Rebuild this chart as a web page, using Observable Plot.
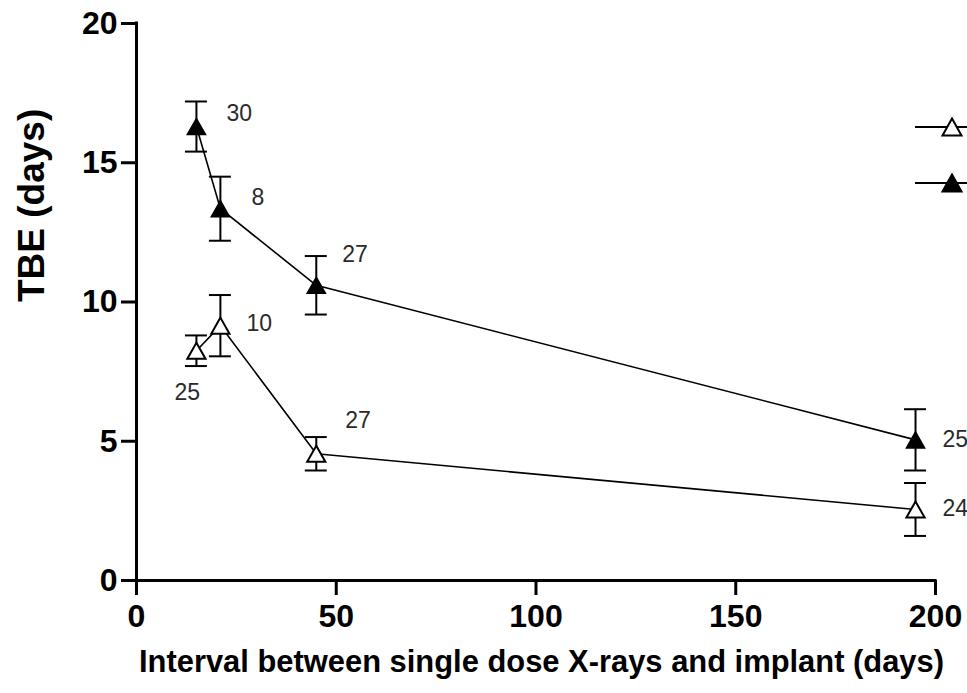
<!DOCTYPE html>
<html>
<head>
<meta charset="utf-8">
<script src="https://cdn.jsdelivr.net/npm/d3@7"></script>
<script src="https://cdn.jsdelivr.net/npm/@observablehq/plot@0.6"></script>
<style>
  html, body { margin: 0; padding: 0; background: #fff; overflow: hidden; }
  #wrap { position: relative; width: 967px; height: 693px; }
  #legend { position: absolute; left: 0; top: 0; pointer-events: none; }
</style>
</head>
<body>
<div id="wrap"></div>
<script>
// ---- data ----
const intervals = [15, 21, 45, 195];           // days between X-rays and implant
const openMean   = [8.25, 9.15, 4.55, 2.55];   // TBE (days), open triangles
const openSE     = [0.55, 1.1, 0.6, 0.95];
const openN      = [25, 10, 27, 24];
const filledMean = [16.3, 13.35, 10.6, 5.05];  // TBE (days), filled triangles
const filledSE   = [0.9, 1.15, 1.05, 1.1];
const filledN    = [30, 8, 27, 25];
const xTicks = [0, 50, 100, 150, 200];
const yTicks = [0, 5, 10, 15, 20];
const xLabel = "Interval between single dose X-rays and implant (days)";
const yLabel = "TBE (days)";

// label offsets in pixels (style only)
const openLabelOffsets   = [[-22, 42], [26, -2], [29, -33], [27, -1]];
const filledLabelOffsets = [[30, -13], [31, -11], [26, -31], [27, 0]];

// ---- build tables ----
const build = (means, ses, ns, offs, group) =>
  intervals.map((x, i) => ({x, y: means[i], lo: means[i] - ses[i], hi: means[i] + ses[i], n: ns[i], dx: offs[i][0], dy: offs[i][1], group}));
const openRows = build(openMean, openSE, openN, openLabelOffsets, "open");
const filledRows = build(filledMean, filledSE, filledN, filledLabelOffsets, "filled");
const allRows = openRows.concat(filledRows);

// triangle symbol centered on its bounding box
const tri = {
  draw(ctx, size) {
    const r = Math.sqrt(size / Math.PI);
    const hw = r * 1.3, hh = r * 1.15;
    ctx.moveTo(0, -hh);
    ctx.lineTo(hw, hh);
    ctx.lineTo(-hw, hh);
    ctx.closePath();
  }
};

const capHalf = 2.75; // half cap width in x units
const numFont = "'Liberation Sans', Arial, sans-serif";

const labelMarks = allRows.map(d =>
  Plot.text([d], {x: "x", y: "y", text: d => String(d.n), dx: d.dx, dy: d.dy,
    textAnchor: "start", fontSize: 23, fill: "#2a2a2a", fontFamily: numFont})
);

const chart = Plot.plot({
  width: 967,
  height: 693,
  marginLeft: 136,
  marginRight: 32,
  marginTop: 23,
  marginBottom: 113,
  style: {background: "#fff", fontFamily: numFont, color: "#000"},
  x: {domain: [0, 200]},
  y: {domain: [0, 20]},
  marks: [
    Plot.axisX({ticks: xTicks, tickSize: 15, tickPadding: 9, fontSize: 32, fontWeight: "bold", strokeWidth: 3, label: null, tickFormat: d => d}),
    Plot.axisY({ticks: yTicks, tickSize: 15, tickPadding: 4, fontSize: 32, fontWeight: "bold", strokeWidth: 3, label: null, tickFormat: d => d}),
    Plot.ruleY([0], {x1: 0, x2: 200, stroke: "#000", strokeWidth: 3, strokeLinecap: "square"}),
    Plot.ruleX([0], {y1: 0, y2: 20, stroke: "#000", strokeWidth: 3, strokeLinecap: "square"}),
    // connecting lines
    Plot.line(openRows, {x: "x", y: "y", stroke: "#000", strokeWidth: 1.6}),
    Plot.line(filledRows, {x: "x", y: "y", stroke: "#000", strokeWidth: 1.6}),
    // error bars
    Plot.ruleX(allRows, {x: "x", y1: "lo", y2: "hi", stroke: "#000", strokeWidth: 2}),
    Plot.ruleY(allRows, {y: "hi", x1: d => d.x - capHalf, x2: d => d.x + capHalf, stroke: "#000", strokeWidth: 2}),
    Plot.ruleY(allRows, {y: "lo", x1: d => d.x - capHalf, x2: d => d.x + capHalf, stroke: "#000", strokeWidth: 2}),
    // markers
    Plot.dot(openRows, {x: "x", y: "y", symbol: tri, r: 7, fill: "#fff", stroke: "#000", strokeWidth: 2}),
    Plot.dot(filledRows, {x: "x", y: "y", symbol: tri, r: 7, fill: "#000", stroke: "#000", strokeWidth: 1.5}),
    ...labelMarks,
    // axis titles
    Plot.text([xLabel], {frameAnchor: "bottom", dx: 5.5, dy: 91, fontSize: 31, fontWeight: "bold",
      fontFamily: "'Liberation Sans Narrow', 'Arial Narrow', 'Liberation Sans', Arial, sans-serif", fill: "#000"}),
    Plot.text([yLabel], {frameAnchor: "left", dx: -104, rotate: -90, fontSize: 37, fontWeight: "bold",
      fontFamily: numFont, fill: "#000"})
  ]
});

document.getElementById("wrap").appendChild(chart);

// fit the x-axis title to the reference width
d3.select(chart).selectAll("text").filter(function() { return this.textContent === xLabel; })
  .attr("textLength", 805).attr("lengthAdjust", "spacingAndGlyphs");

// legend (symbols only; the labels fall outside the visible frame)
const legendItems = [{fill: "#fff", y: 127}, {fill: "#000", y: 183}];
const lg = d3.select("#wrap").append("svg").attr("id", "legend").attr("width", 967).attr("height", 693);
legendItems.forEach(it => {
  lg.append("line").attr("x1", 915).attr("x2", 967).attr("y1", it.y).attr("y2", it.y)
    .attr("stroke", "#000").attr("stroke-width", 2);
  lg.append("path").attr("d", "M0,-8.5L9.5,8.5L-9.5,8.5Z").attr("transform", `translate(952,${it.y})`)
    .attr("fill", it.fill).attr("stroke", "#000").attr("stroke-width", 2);
});
</script>
</body>
</html>
